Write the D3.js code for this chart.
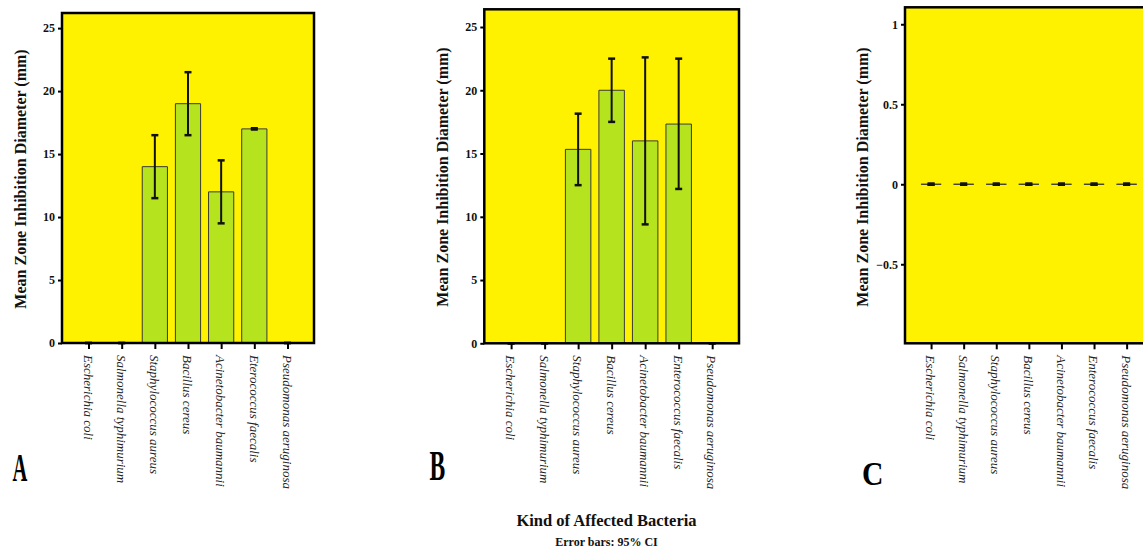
<!DOCTYPE html>
<html><head><meta charset="utf-8">
<script src="https://cdn.jsdelivr.net/npm/d3@7"></script>
<style>
html,body{margin:0;padding:0;background:#fff;}
svg{display:block;}
</style></head>
<body><svg id="chart" width="1143" height="551"></svg>
<script>
// ---- data ----
const categoriesA = ["Escherichia coli","Salmonella typhimurium","Staphylococcus aureus","Bacillus cereus","Acinetobacter baumannii","Eterococcus faecalis","Pseudomonas aeruginosa"];
const categoriesBC = ["Escherichia coli","Salmonella typhimurium","Staphylococcus aureus","Bacillus cereus","Acinetobacter baumannii","Enterococcus faecalis","Pseudomonas aeruginosa"];

const meansA = [0, 0, 14, 19, 12, 17, 0];
const lowA   = [0, 0, 11.5, 16.5, 9.5, 16.95, 0];
const highA  = [0, 0, 16.5, 21.5, 14.5, 17.05, 0];

const meansB = [0, 0, 15.33, 20, 16, 17.33, 0];
const lowB   = [0, 0, 12.5, 17.5, 9.4, 12.2, 0];
const highB  = [0, 0, 18.15, 22.5, 22.6, 22.5, 0];

const meansC = [0, 0, 0, 0, 0, 0, 0];
const lowC   = [0, 0, 0, 0, 0, 0, 0];
const highC  = [0, 0, 0, 0, 0, 0, 0];

const ticksAB = [0, 5, 10, 15, 20, 25];
const ticksC  = [-0.5, 0, 0.5, 1];

const yTitle = "Mean Zone Inhibition Diameter (mm)";
const xTitle = "Kind of Affected Bacteria";
const note = "Error bars: 95% CI";

// ---- drawing ----
const FONT = "'Liberation Serif', 'Times New Roman', Times, 'DejaVu Serif', serif";
const svg = d3.select("#chart");
const BG = "#fff200", BAR = "#b5e31e";

function panel(cfg){
  const g = svg.append("g");
  const x = d3.scalePoint().domain(cfg.cats).range([cfg.left, cfg.right]).padding(0.8);
  const y = d3.scaleLinear().domain(cfg.domain).range([cfg.bottom, cfg.top]);
  const bw = x.step() * cfg.barFrac;

  g.append("rect").attr("x", cfg.left).attr("y", cfg.top)
    .attr("width", cfg.right - cfg.left).attr("height", cfg.bottom - cfg.top)
    .attr("fill", BG);

  const rows = cfg.cats.map((c, i) => ({c, m: cfg.means[i], lo: cfg.low[i], hi: cfg.high[i]}));
  const base = y(Math.max(0, cfg.domain[0]));

  g.selectAll("path.bar").data(rows).enter().append("path").attr("class","bar")
    .attr("d", d => {
      const x0 = x(d.c) - bw/2, x1 = x(d.c) + bw/2, yt = y(d.m);
      return `M${x0},${base}L${x0},${yt}L${x1},${yt}L${x1},${base}Z`;
    })
    .attr("fill", BAR).attr("stroke", "#3a3a3a").attr("stroke-width", 1);

  // error bars
  const eb = g.selectAll("g.eb").data(rows).enter().append("g");
  eb.append("line")
    .attr("x1", d => x(d.c)).attr("x2", d => x(d.c))
    .attr("y1", d => y(d.lo)).attr("y2", d => y(d.hi))
    .attr("stroke", "#111").attr("stroke-width", 2);
  ["lo","hi"].forEach(k => {
    eb.append("line")
      .attr("x1", d => x(d.c) - 3.5).attr("x2", d => x(d.c) + 3.5)
      .attr("y1", d => y(d[k])).attr("y2", d => y(d[k]))
      .attr("stroke", "#111").attr("stroke-width", cfg.capW);
  });

  // frame
  g.append("rect").attr("x", cfg.left).attr("y", cfg.top)
    .attr("width", cfg.right - cfg.left).attr("height", cfg.bottom - cfg.top)
    .attr("fill", "none").attr("stroke", "#000").attr("stroke-width", 2.5);

  // y axis
  const ya = g.append("g").attr("transform", `translate(${cfg.left},0)`)
    .call(d3.axisLeft(y).tickValues(cfg.ticks).tickSize(4).tickPadding(3).tickFormat(d3.format("")));
  ya.attr("font-family", FONT);
  ya.select(".domain").remove();
  ya.selectAll(".tick line").attr("stroke", "#000").attr("stroke-width", 2);
  ya.selectAll(".tick text").attr("font-size", 12).attr("font-weight", "bold")
    .attr("fill", "#111").attr("font-family", FONT);

  // x axis
  const xa = g.append("g").attr("transform", `translate(0,${cfg.bottom})`)
    .call(d3.axisBottom(x).tickSize(6).tickFormat(""));
  xa.select(".domain").remove();
  xa.selectAll(".tick line").attr("stroke", "#000").attr("stroke-width", 2);

  g.selectAll("text.cat").data(cfg.cats).enter().append("text").attr("class","cat")
    .attr("transform", d => `translate(${x(d) - 0.5},${cfg.bottom + 12}) rotate(90)`)
    .attr("dy", "0.33em").attr("font-family", FONT)
    .attr("font-size", 13).attr("font-style", "italic").attr("fill", "#222")
    .text(d => d);

  // y title
  g.append("text")
    .attr("transform", `translate(${cfg.titleX},${cfg.titleY}) rotate(-90)`)
    .attr("text-anchor", "middle").attr("font-size", 16).attr("font-weight", "bold")
    .attr("font-family", FONT).attr("fill", "#111").text(yTitle);

  // panel letter
  g.append("text")
    .attr("transform", `translate(${cfg.letterX},${cfg.letterY}) scale(${cfg.letterSX},1)`)
    .attr("font-size", cfg.letterSize).attr("font-weight", "bold").attr("fill", "#000")
    .attr("font-family", FONT).text(cfg.letter);
}

panel({cats: categoriesA, means: meansA, low: lowA, high: highA, ticks: ticksAB,
  left: 62, right: 314, top: 13, bottom: 343, domain: [0, 26.2], barFrac: 0.76, capW: 2.5,
  titleX: 26, titleY: 179, letter: "A", letterX: 12.5, letterY: 480.5, letterSize: 41, letterSX: 0.5});

panel({cats: categoriesBC, means: meansB, low: lowB, high: highB, ticks: ticksAB,
  left: 484.3, right: 739, top: 9.3, bottom: 343.3, domain: [0, 26.4], barFrac: 0.76, capW: 2.5,
  titleX: 447.5, titleY: 177, letter: "B", letterX: 429.5, letterY: 480, letterSize: 42, letterSX: 0.56});

panel({cats: categoriesBC, means: meansC, low: lowC, high: highC, ticks: ticksC,
  left: 905, right: 1152.7, top: 7.3, bottom: 343.3, domain: [-0.994, 1.106], barFrac: 0.62, capW: 3.5,
  titleX: 867.5, titleY: 177, letter: "C", letterX: 862, letterY: 485, letterSize: 33, letterSX: 0.9});

svg.append("text").attr("x", 606.5).attr("y", 525.5).attr("text-anchor", "middle")
  .attr("font-family", FONT)
  .attr("font-size", 16.5).attr("font-weight", "bold").attr("fill", "#111").text(xTitle);
svg.append("text").attr("x", 606.5).attr("y", 546).attr("text-anchor", "middle")
  .attr("font-family", FONT)
  .attr("font-size", 12).attr("font-weight", "bold").attr("fill", "#111").text(note);
</script></body></html>
